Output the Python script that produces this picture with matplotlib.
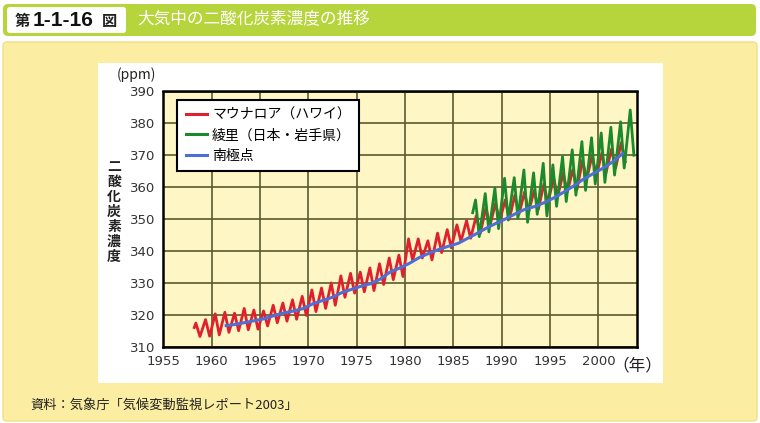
import matplotlib
matplotlib.use("Agg")
import matplotlib.pyplot as plt
from matplotlib.patches import FancyBboxPatch, Rectangle
import numpy as np

plt.rcParams['font.family'] = ['Noto Sans CJK JP', 'DejaVu Sans']

# Mauna Loa (Hawaii): yearly seasonal peak / trough, ppm
ml_years = list(range(1958, 2003))
ml_peak = [317.4, 318.5, 320.3, 320.8, 320.5, 322.0, 321.5, 321.2, 323.0, 323.7,
           324.7, 325.8, 327.8, 328.4, 330.0, 332.2, 333.0, 333.4, 334.7, 336.0,
           337.8, 338.7, 343.8, 343.8, 343.2, 345.6, 346.7, 348.2, 349.5, 351.0,
           353.5, 355.0, 356.0, 357.5, 358.5, 359.0, 361.0, 363.0, 364.5, 365.5,
           368.5, 370.0, 370.7, 372.0, 374.0]
ml_trough = [313.2, 313.3, 313.7, 314.5, 315.0, 315.3, 315.5, 316.5, 317.5, 318.0,
             318.6, 319.8, 321.0, 322.0, 323.0, 325.5, 326.8, 327.2, 327.6, 329.5,
             331.0, 332.0, 337.0, 337.8, 337.2, 339.5, 341.0, 343.0, 344.0, 345.5,
             348.0, 349.3, 350.0, 351.5, 352.3, 353.0, 355.0, 357.0, 358.5, 359.3,
             362.5, 363.5, 364.5, 366.0, 368.0]
ml_first = 316.0   # March 1958

# Ryori (Japan, Iwate): yearly seasonal peak / trough, ppm
ry_years = list(range(1987, 2004))
ry_peak = [356.0, 358.0, 359.7, 362.8, 363.0, 365.4, 364.5, 367.5, 367.0, 369.6,
           371.7, 374.3, 375.5, 377.0, 378.8, 380.5, 384.2]
ry_trough = [344.5, 346.0, 347.0, 349.7, 350.3, 349.0, 351.5, 351.0, 354.0, 355.5,
             357.5, 359.0, 361.0, 361.5, 363.8, 366.0, 370.0]
ry_first = 352.0   # January 1987

# South Pole: yearly values, ppm
sp_years = list(range(1961, 2003))
sp_vals = [316.6, 317.0, 317.6, 318.2, 318.8, 319.8, 320.6, 321.2, 322.0, 323.5,
           324.5, 325.5, 327.0, 328.0, 329.0, 329.8, 331.3, 333.5, 334.7, 336.2,
           338.0, 339.3, 340.5, 341.5, 342.4, 344.0, 345.6, 347.3, 348.8, 350.2,
           351.8, 353.2, 354.0, 355.3, 356.8, 358.6, 360.5, 362.6, 364.3, 366.0,
           368.0, 370.5]

labels = ['マウナロア（ハワイ）', '綾里（日本・岩手県）', '南極点']
colors = ['#e0202c', '#1b8a2c', '#4d6fd6']


def seasonal(years, first, peaks, troughs, t0, tp, tt):
    t = [years[0] + t0]
    v = [first]
    for y, p, tr in zip(years, peaks, troughs):
        t += [y + tp, y + tt]
        v += [p, tr]
    return t, v


W, H = 760, 423
fig = plt.figure(figsize=(W / 100, H / 100), dpi=100)
fig.patch.set_facecolor('white')

# decoration layer in pixel coordinates
bg = fig.add_axes([0, 0, 1, 1])
bg.set_xlim(0, W)
bg.set_ylim(H, 0)
bg.axis('off')
bg.add_patch(FancyBboxPatch((3, 4), 753, 32, boxstyle='round,pad=0,rounding_size=5',
                            fc='#b6d43c', ec='none'))
bg.add_patch(FancyBboxPatch((6, 6), 121, 28, boxstyle='round,pad=0,rounding_size=4',
                            fc='white', ec='#b6d43c', lw=1.5))
bg.text(15, 21, '第', fontsize=11, fontweight='bold', va='center', color='#222')
bg.text(33, 20, '1-1-16', fontsize=15, fontweight='bold', va='center', color='#111',
        family='Liberation Sans')
bg.text(102, 21, '図', fontsize=11, fontweight='bold', va='center', color='#222')
bg.text(137, 20, '大気中の二酸化炭素濃度の推移', fontsize=12, va='center', color='white')
bg.add_patch(FancyBboxPatch((3, 42), 754, 379, boxstyle='round,pad=0,rounding_size=4',
                            fc='#fbeda2', ec='#f2df86', lw=1))
bg.add_patch(Rectangle((98, 63), 565, 320, fc='white', ec='none'))
bg.text(117, 75, '(ppm)', fontsize=10, va='center', color='#222')
bg.text(114, 212, '\n'.join('二酸化炭素濃度'), fontsize=10, ha='center', va='center',
        linespacing=1.08, color='#222', fontweight='bold')
bg.text(612, 366, '（年）', fontsize=12, va='center', color='#222')
bg.text(30, 405, '資料：気象庁「気候変動監視レポート2003」', fontsize=9.5, va='center',
        color='#222')

# chart
ax = fig.add_axes([163.3 / W, 1 - 346.7 / H, (637 - 163.3) / W, (346.7 - 91.5) / H])
ax.set_facecolor('#fff6c6')

t, v = seasonal(ml_years, ml_first, ml_peak, ml_trough, 0.2, 0.37, 0.79)
ax.plot(t, v, color=colors[0], lw=2.0, label=labels[0], zorder=3)
t, v = seasonal(ry_years, ry_first, ry_peak, ry_trough, 0.0, 0.3, 0.68)
ax.plot(t, v, color=colors[1], lw=2.0, label=labels[1], zorder=4)
ax.plot(np.array(sp_years) + 0.5, sp_vals, color=colors[2], lw=2.2, label=labels[2],
        zorder=5)

ax.set_xlim(1955, 2004)
ax.set_ylim(310, 390)
ax.set_xticks(range(1955, 2001, 5))
ax.set_yticks(range(310, 391, 10))
ax.grid(True, color='#5a5a30', lw=1.2)
ax.set_axisbelow(True)
ax.tick_params(length=0, labelsize=9.5, labelcolor='#333', pad=6)
for lab in ax.get_xticklabels() + ax.get_yticklabels():
    lab.set_family('DejaVu Sans')
for s in ax.spines.values():
    s.set_linewidth(1.8)
    s.set_color('black')

leg = ax.legend(loc='upper left', bbox_to_anchor=(0.015, 0.995), fontsize=10,
                frameon=True, fancybox=False, edgecolor='black', facecolor='white',
                framealpha=1, handlelength=1.5, handletextpad=0.4, labelspacing=0.45,
                borderpad=0.6)
leg.get_frame().set_linewidth(1.5)
for line in leg.get_lines():
    line.set_linewidth(2.2)

fig.savefig('out.png', dpi=100)
